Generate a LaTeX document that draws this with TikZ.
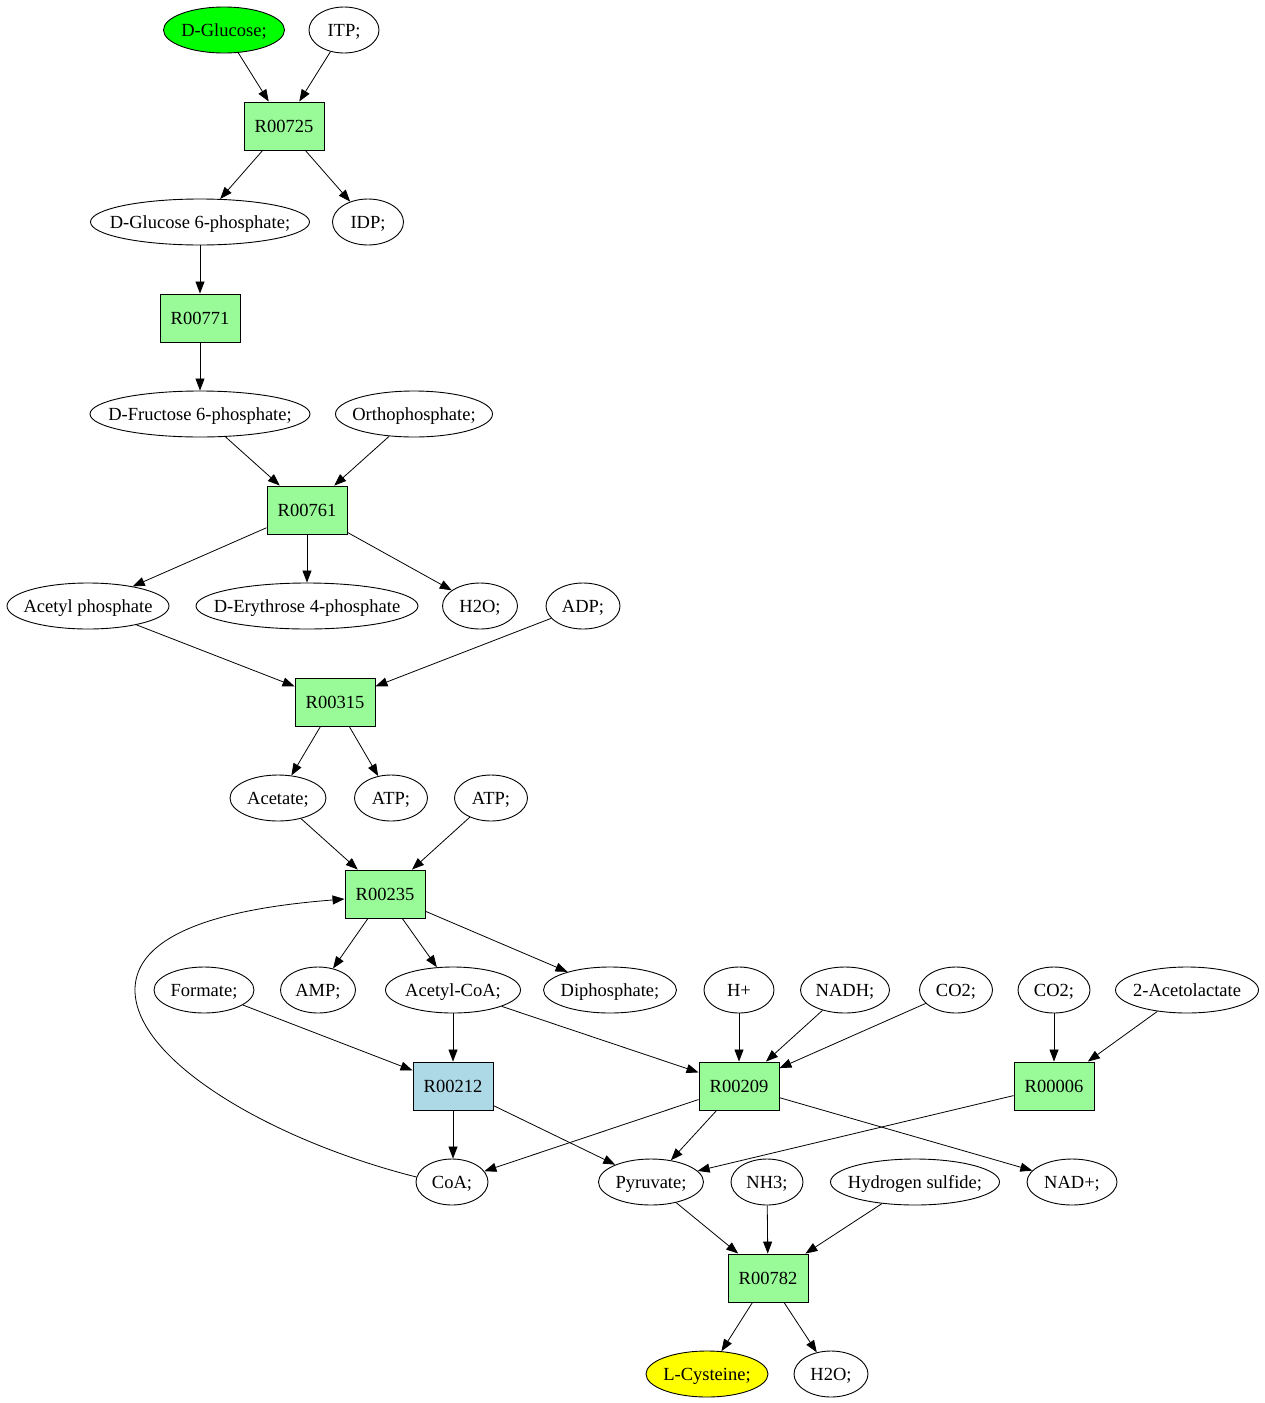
\documentclass[tikz,border=0pt]{standalone}
\usepackage{fontspec}
\setmainfont{Liberation Serif}
\usetikzlibrary{shapes.geometric,arrows.meta}
\definecolor{gvgreen}{HTML}{00FF00}
\definecolor{palegreen}{HTML}{98FB98}
\definecolor{lblue}{HTML}{ADD8E6}
\definecolor{gvyellow}{HTML}{FFFF00}
\newcommand{\zw}[1]{\raisebox{-6pt}[0pt][0pt]{\makebox[0pt]{#1}}}
\tikzset{
  met/.style={ellipse,draw,line width=0.9pt,inner sep=0pt,minimum height=46pt,font=\fontsize{18.5}{22}\selectfont},
  rxn/.style={rectangle,draw,line width=0.9pt,fill=palegreen,inner sep=0pt,minimum width=80pt,minimum height=48pt,font=\fontsize{18.5}{22}\selectfont},
  edge/.style={draw,line width=0.8pt,-{Triangle[length=12pt,width=9pt]}},
}
\begin{document}
\begin{tikzpicture}[x=1pt,y=-1pt]
\useasboundingbox (0,0) rectangle (1265,1403);
\node[met,fill=gvgreen,minimum width=121pt] (glc) at (224,30) {\zw{D-Glucose;}};
\node[met,minimum width=70pt] (itp) at (344,30) {\zw{ITP;}};
\node[rxn] (r725) at (284,126) {R00725};
\node[met,minimum width=219pt] (g6p) at (200,222) {\zw{D-Glucose 6-phosphate;}};
\node[met,minimum width=71pt] (idp) at (368,222) {\zw{IDP;}};
\node[rxn] (r771) at (200,318) {R00771};
\node[met,minimum width=220pt] (f6p) at (200,414) {\zw{D-Fructose 6-phosphate;}};
\node[met,minimum width=157pt] (pi) at (414,414) {\zw{Orthophosphate;}};
\node[rxn] (r761) at (307,510) {R00761};
\node[met,minimum width=162pt] (acp) at (88,606) {\zw{Acetyl phosphate}};
\node[met,minimum width=222pt] (e4p) at (307,606) {\zw{D-Erythrose 4-phosphate}};
\node[met,minimum width=75pt] (h2oa) at (480,606) {\zw{H2O;}};
\node[met,minimum width=74pt] (adp) at (583,606) {\zw{ADP;}};
\node[rxn] (r315) at (335,702) {R00315};
\node[met,minimum width=96pt] (ace) at (278,798) {\zw{Acetate;}};
\node[met,minimum width=73pt] (atpa) at (391,798) {\zw{ATP;}};
\node[met,minimum width=73pt] (atpb) at (491,798) {\zw{ATP;}};
\node[rxn] (r235) at (385,894) {R00235};
\node[met,minimum width=100pt] (for) at (204,990) {\zw{Formate;}};
\node[met,minimum width=75pt] (amp) at (318,990) {\zw{AMP;}};
\node[met,minimum width=135pt] (accoa) at (453,990) {\zw{Acetyl-CoA;}};
\node[met,minimum width=133pt] (ppi) at (610,990) {\zw{Diphosphate;}};
\node[met,minimum width=70pt] (hp) at (739,990) {\zw{H+}};
\node[met,minimum width=89pt] (nadh) at (845,990) {\zw{NADH;}};
\node[met,minimum width=73pt] (co2a) at (956,990) {\zw{CO2;}};
\node[met,minimum width=72pt] (co2b) at (1054,990) {\zw{CO2;}};
\node[met,minimum width=143pt] (acl) at (1187,990) {\zw{2-Acetolactate}};
\node[rxn,fill=lblue] (r212) at (453,1086) {R00212};
\node[rxn] (r209) at (739,1086) {R00209};
\node[rxn] (r006) at (1054,1086) {R00006};
\node[met,minimum width=72pt] (coa) at (452,1182) {\zw{CoA;}};
\node[met,minimum width=105pt] (pyr) at (651,1182) {\zw{Pyruvate;}};
\node[met,minimum width=72pt] (nh3) at (767,1182) {\zw{NH3;}};
\node[met,minimum width=169pt] (h2s) at (915,1182) {\zw{Hydrogen sulfide;}};
\node[met,minimum width=90pt] (nadp) at (1072,1182) {\zw{NAD+;}};
\node[rxn] (r782) at (768,1278) {R00782};
\node[met,fill=gvyellow,minimum width=122pt] (cys) at (707,1374) {\zw{L-Cysteine;}};
\node[met,minimum width=74pt] (h2ob) at (831,1374) {\zw{H2O;}};
\path[edge] (glc) -- (r725);
\path[edge] (itp) -- (r725);
\path[edge] (r725) -- (g6p);
\path[edge] (r725) -- (idp);
\path[edge] (g6p) -- (r771);
\path[edge] (r771) -- (f6p);
\path[edge] (f6p) -- (r761);
\path[edge] (pi) -- (r761);
\path[edge] (r761) -- (acp);
\path[edge] (r761) -- (e4p);
\path[edge] (r761) -- (h2oa);
\path[edge] (acp) -- (r315);
\path[edge] (adp) -- (r315);
\path[edge] (r315) -- (ace);
\path[edge] (r315) -- (atpa);
\path[edge] (ace) -- (r235);
\path[edge] (atpb) -- (r235);
\path[edge] (r235) -- (amp);
\path[edge] (r235) -- (accoa);
\path[edge] (r235) -- (ppi);
\path[edge] (coa.172) .. controls (270,1140) and (135,1060) .. (135,990)
  .. controls (135,920) and (270,905) .. (r235.west |- 0,899);
\path[edge] (for) -- (r212);
\path[edge] (accoa) -- (r212);
\path[edge] (accoa) -- (r209);
\path[edge] (hp) -- (r209);
\path[edge] (nadh) -- (r209);
\path[edge] (co2a) -- (r209);
\path[edge] (co2b) -- (r006);
\path[edge] (acl) -- (r006);
\path[edge] (r212) -- (r212 |- coa.north);
\path[edge] (r212) -- (pyr);
\path[edge] (r209) -- (coa);
\path[edge] (r209) -- (pyr);
\path[edge] (r209) -- (nadp);
\path[edge] (r006) -- (pyr);
\path[edge] (pyr) -- (r782);
\path[edge] (nh3) -- (r782);
\path[edge] (h2s) -- (r782);
\path[edge] (r782) -- (cys);
\path[edge] (r782) -- (h2ob);
\end{tikzpicture}
\end{document}
